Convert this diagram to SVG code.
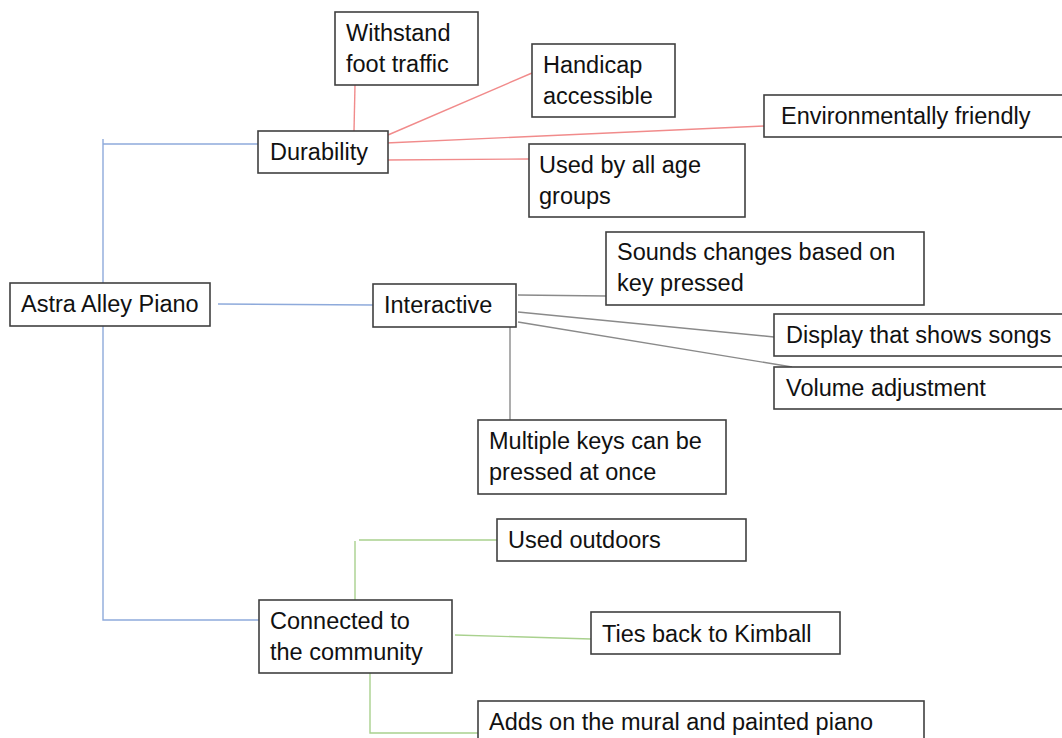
<svg xmlns="http://www.w3.org/2000/svg" width="1062" height="738" viewBox="0 0 1062 738">
  <style>
    .box { fill: #ffffff; stroke: #404040; stroke-width: 1.6; }
    .lbl { font-family: "Liberation Sans", Arial, sans-serif; font-size: 23.5px; fill: #111111; }
    .blue { stroke: #8eaadb; stroke-width: 1.4; fill: none; }
    .red { stroke: #f18b8b; stroke-width: 1.4; fill: none; }
    .gray { stroke: #8a8a8a; stroke-width: 1.4; fill: none; }
    .green { stroke: #a9d18e; stroke-width: 1.4; fill: none; }
  </style>
  <rect width="1062" height="738" fill="#ffffff"/>

  <!-- connectors -->
  <g id="connectors">
    <!-- root branches -->
    <path class="blue" d="M103,139 V283"/>
    <path class="blue" d="M103,144 H258"/>
    <path class="blue" d="M103,326 V620 H259"/>
    <path class="blue" d="M218,304 L373,305"/>
    <!-- durability branches -->
    <path class="red" d="M355,85 L354,131"/>
    <path class="red" d="M388,135 L532,73"/>
    <path class="red" d="M386,143 L764,126"/>
    <path class="red" d="M386,160 L529,159"/>
    <!-- interactive branches -->
    <path class="gray" d="M518,295 L606,296"/>
    <path class="gray" d="M518,312 L774,337"/>
    <path class="gray" d="M518,322 L792,367"/>
    <path class="gray" d="M510,327 V420"/>
    <!-- community branches -->
    <path class="green" d="M355,600 V541 M359,540 H497"/>
    <path class="green" d="M455,635 L591,639"/>
    <path class="green" d="M370,673 V733 H478"/>
  </g>

  <g id="astra-alley-piano">
    <rect class="box" x="10" y="283" width="200" height="43"/>
    <text class="lbl" x="21" y="312">Astra Alley Piano</text>
  </g>

  <g id="durability">
    <rect class="box" x="258" y="131" width="130" height="42"/>
    <text class="lbl" x="270" y="160">Durability</text>
  </g>

  <g id="withstand-foot-traffic">
    <rect class="box" x="335" y="12" width="143" height="73"/>
    <text class="lbl" x="346" y="41">Withstand</text>
    <text class="lbl" x="346" y="72">foot traffic</text>
  </g>

  <g id="handicap-accessible">
    <rect class="box" x="532" y="44" width="143" height="73"/>
    <text class="lbl" x="543" y="73">Handicap</text>
    <text class="lbl" x="543" y="104">accessible</text>
  </g>

  <g id="environmentally-friendly">
    <rect class="box" x="764" y="95" width="310" height="42"/>
    <text class="lbl" x="781" y="124">Environmentally friendly</text>
  </g>

  <g id="used-by-all-age-groups">
    <rect class="box" x="529" y="144" width="216" height="73"/>
    <text class="lbl" x="539" y="173">Used by all age</text>
    <text class="lbl" x="539" y="204">groups</text>
  </g>

  <g id="interactive">
    <rect class="box" x="373" y="284" width="143" height="43"/>
    <text class="lbl" x="384" y="313">Interactive</text>
  </g>

  <g id="sounds-changes">
    <rect class="box" x="606" y="232" width="318" height="73"/>
    <text class="lbl" x="617" y="260">Sounds changes based on</text>
    <text class="lbl" x="617" y="291">key pressed</text>
  </g>

  <g id="display-songs">
    <rect class="box" x="774" y="314" width="300" height="42"/>
    <text class="lbl" x="786" y="343">Display that shows songs</text>
  </g>

  <g id="volume-adjustment">
    <rect class="box" x="774" y="367" width="300" height="42"/>
    <text class="lbl" x="786" y="396">Volume adjustment</text>
  </g>

  <g id="multiple-keys">
    <rect class="box" x="478" y="420" width="248" height="74"/>
    <text class="lbl" x="489" y="449">Multiple keys can be</text>
    <text class="lbl" x="489" y="480">pressed at once</text>
  </g>

  <g id="connected-community">
    <rect class="box" x="259" y="600" width="193" height="73"/>
    <text class="lbl" x="270" y="629">Connected to</text>
    <text class="lbl" x="270" y="660">the community</text>
  </g>

  <g id="used-outdoors">
    <rect class="box" x="497" y="519" width="249" height="42"/>
    <text class="lbl" x="508" y="548">Used outdoors</text>
  </g>

  <g id="ties-back-kimball">
    <rect class="box" x="591" y="612" width="249" height="42"/>
    <text class="lbl" x="602" y="642">Ties back to Kimball</text>
  </g>

  <g id="adds-mural">
    <rect class="box" x="478" y="701" width="446" height="60"/>
    <text class="lbl" x="489" y="730">Adds on the mural and painted piano</text>
  </g>
</svg>
